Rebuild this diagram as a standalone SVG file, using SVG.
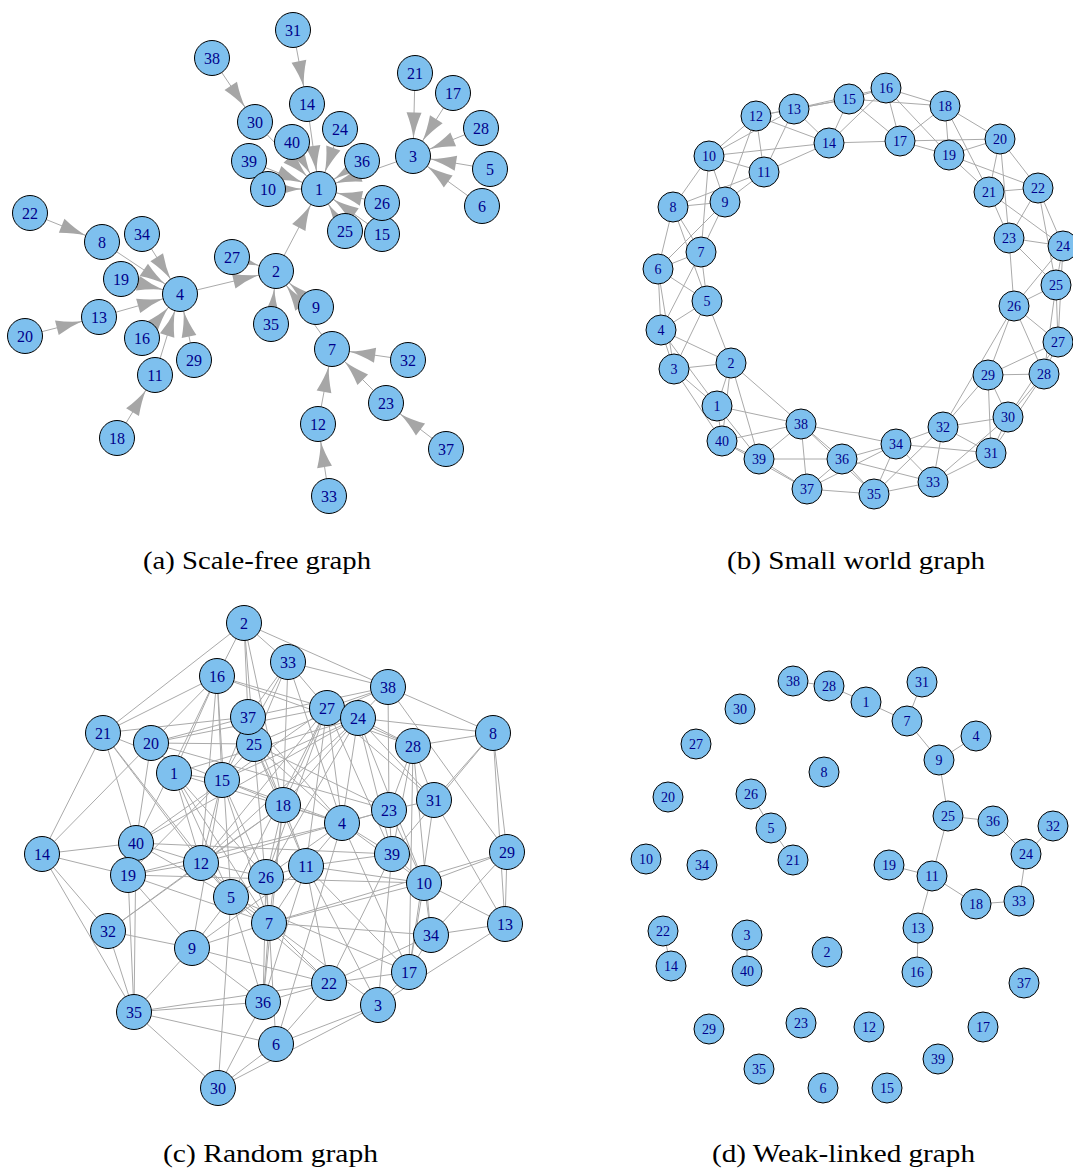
<svg xmlns="http://www.w3.org/2000/svg" width="1073" height="1171" viewBox="0 0 1073 1171">
<style>
.e path{stroke:#aaaaaa;stroke-width:1;fill:none}
.ea path{marker-end:url(#ah)}
.n circle{fill:#7EC0EE;stroke:#000;stroke-width:1}
.n text{font-family:"Liberation Serif","Times New Roman",serif;fill:#00008B;text-anchor:middle;dominant-baseline:central}
.big text{font-size:16px}
.small text{font-size:14px}
.cap{font-family:"Liberation Serif","Times New Roman",serif;font-size:26px;fill:#000}
</style>
<defs>
<marker id="ah" markerUnits="userSpaceOnUse" viewBox="-46 -9 48 18" refX="0" refY="0" markerWidth="48" markerHeight="18" orient="auto" overflow="visible">
<path d="M-17.5 0Q-30 -2 -43.5 -7.5L-43.5 7.5Q-30 2 -17.5 0Z" fill="#a6a6a6"/>
</marker>
</defs>
<rect width="1073" height="1171" fill="#fff"/>

<!-- (a) scale-free -->
<g id="edges-a" class="e ea">
<path d="M276 271L319 189"/>
<path d="M413 156L319 189"/>
<path d="M180 294L276 271"/>
<path d="M490 169L413 156"/>
<path d="M482 206L413 156"/>
<path d="M332 349L276 271"/>
<path d="M102 242L180 294"/>
<path d="M316 307L276 271"/>
<path d="M268 189L319 189"/>
<path d="M155 375L180 294"/>
<path d="M318 424L332 349"/>
<path d="M99 317L180 294"/>
<path d="M307 104L319 189"/>
<path d="M382 234L319 189"/>
<path d="M142 338L180 294"/>
<path d="M453 93L413 156"/>
<path d="M117 438L155 375"/>
<path d="M121 279L180 294"/>
<path d="M25 336L99 317"/>
<path d="M415 73L413 156"/>
<path d="M30 213L102 242"/>
<path d="M386 403L332 349"/>
<path d="M340 129L319 189"/>
<path d="M345 231L319 189"/>
<path d="M382 203L319 189"/>
<path d="M232 257L276 271"/>
<path d="M481 128L413 156"/>
<path d="M194 360L180 294"/>
<path d="M255 122L319 189"/>
<path d="M293 30L307 104"/>
<path d="M408 360L332 349"/>
<path d="M329 496L318 424"/>
<path d="M142 234L180 294"/>
<path d="M271 324L276 271"/>
<path d="M362 161L319 189"/>
<path d="M446 449L386 403"/>
<path d="M212 58L255 122"/>
<path d="M249 161L319 189"/>
<path d="M292 142L319 189"/>
</g>
<g id="nodes-a" class="n big">
<g id="a1"><circle cx="319" cy="189" r="17.5"/><text x="319" y="189">1</text></g>
<g id="a2"><circle cx="276" cy="271" r="17.5"/><text x="276" y="271">2</text></g>
<g id="a3"><circle cx="413" cy="156" r="17.5"/><text x="413" y="156">3</text></g>
<g id="a4"><circle cx="180" cy="294" r="17.5"/><text x="180" y="294">4</text></g>
<g id="a5"><circle cx="490" cy="169" r="17.5"/><text x="490" y="169">5</text></g>
<g id="a6"><circle cx="482" cy="206" r="17.5"/><text x="482" y="206">6</text></g>
<g id="a7"><circle cx="332" cy="349" r="17.5"/><text x="332" y="349">7</text></g>
<g id="a8"><circle cx="102" cy="242" r="17.5"/><text x="102" y="242">8</text></g>
<g id="a9"><circle cx="316" cy="307" r="17.5"/><text x="316" y="307">9</text></g>
<g id="a11"><circle cx="155" cy="375" r="17.5"/><text x="155" y="375">11</text></g>
<g id="a12"><circle cx="318" cy="424" r="17.5"/><text x="318" y="424">12</text></g>
<g id="a13"><circle cx="99" cy="317" r="17.5"/><text x="99" y="317">13</text></g>
<g id="a14"><circle cx="307" cy="104" r="17.5"/><text x="307" y="104">14</text></g>
<g id="a15"><circle cx="382" cy="234" r="17.5"/><text x="382" y="234">15</text></g>
<g id="a16"><circle cx="142" cy="338" r="17.5"/><text x="142" y="338">16</text></g>
<g id="a17"><circle cx="453" cy="93" r="17.5"/><text x="453" y="93">17</text></g>
<g id="a18"><circle cx="117" cy="438" r="17.5"/><text x="117" y="438">18</text></g>
<g id="a19"><circle cx="121" cy="279" r="17.5"/><text x="121" y="279">19</text></g>
<g id="a20"><circle cx="25" cy="336" r="17.5"/><text x="25" y="336">20</text></g>
<g id="a21"><circle cx="415" cy="73" r="17.5"/><text x="415" y="73">21</text></g>
<g id="a22"><circle cx="30" cy="213" r="17.5"/><text x="30" y="213">22</text></g>
<g id="a23"><circle cx="386" cy="403" r="17.5"/><text x="386" y="403">23</text></g>
<g id="a24"><circle cx="340" cy="129" r="17.5"/><text x="340" y="129">24</text></g>
<g id="a25"><circle cx="345" cy="231" r="17.5"/><text x="345" y="231">25</text></g>
<g id="a26"><circle cx="382" cy="203" r="17.5"/><text x="382" y="203">26</text></g>
<g id="a27"><circle cx="232" cy="257" r="17.5"/><text x="232" y="257">27</text></g>
<g id="a28"><circle cx="481" cy="128" r="17.5"/><text x="481" y="128">28</text></g>
<g id="a29"><circle cx="194" cy="360" r="17.5"/><text x="194" y="360">29</text></g>
<g id="a30"><circle cx="255" cy="122" r="17.5"/><text x="255" y="122">30</text></g>
<g id="a31"><circle cx="293" cy="30" r="17.5"/><text x="293" y="30">31</text></g>
<g id="a32"><circle cx="408" cy="360" r="17.5"/><text x="408" y="360">32</text></g>
<g id="a33"><circle cx="329" cy="496" r="17.5"/><text x="329" y="496">33</text></g>
<g id="a34"><circle cx="142" cy="234" r="17.5"/><text x="142" y="234">34</text></g>
<g id="a35"><circle cx="271" cy="324" r="17.5"/><text x="271" y="324">35</text></g>
<g id="a36"><circle cx="362" cy="161" r="17.5"/><text x="362" y="161">36</text></g>
<g id="a37"><circle cx="446" cy="449" r="17.5"/><text x="446" y="449">37</text></g>
<g id="a38"><circle cx="212" cy="58" r="17.5"/><text x="212" y="58">38</text></g>
<g id="a39"><circle cx="249" cy="161" r="17.5"/><text x="249" y="161">39</text></g>
<g id="a10"><circle cx="268" cy="189" r="17.5"/><text x="268" y="189">10</text></g>
<g id="a40"><circle cx="292" cy="142" r="17.5"/><text x="292" y="142">40</text></g>
</g>

<!-- (b) small world -->
<g id="edges-b" class="e">
<path d="M717 406L731 363"/><path d="M717 406L674 369"/><path d="M717 406L661 330"/>
<path d="M731 363L674 369"/><path d="M731 363L661 330"/><path d="M731 363L707 301"/>
<path d="M674 369L661 330"/><path d="M674 369L707 301"/><path d="M674 369L658 269"/>
<path d="M661 330L707 301"/><path d="M661 330L658 269"/><path d="M661 330L701 252"/>
<path d="M707 301L658 269"/><path d="M707 301L701 252"/><path d="M707 301L673 207"/>
<path d="M658 269L701 252"/><path d="M658 269L673 207"/><path d="M658 269L725 202"/>
<path d="M701 252L673 207"/><path d="M701 252L725 202"/><path d="M701 252L709 156"/>
<path d="M673 207L725 202"/><path d="M673 207L709 156"/><path d="M673 207L764 172"/>
<path d="M725 202L709 156"/><path d="M725 202L764 172"/><path d="M725 202L756 116"/>
<path d="M709 156L764 172"/><path d="M709 156L756 116"/><path d="M709 156L794 109"/>
<path d="M764 172L756 116"/><path d="M764 172L794 109"/><path d="M764 172L829 143"/>
<path d="M756 116L794 109"/><path d="M756 116L829 143"/><path d="M756 116L849 99"/>
<path d="M794 109L829 143"/><path d="M794 109L849 99"/><path d="M794 109L886 88"/>
<path d="M829 143L849 99"/><path d="M829 143L886 88"/><path d="M829 143L900 141"/>
<path d="M849 99L886 88"/><path d="M849 99L900 141"/><path d="M849 99L945 106"/>
<path d="M886 88L900 141"/><path d="M886 88L945 106"/><path d="M886 88L949 155"/>
<path d="M900 141L945 106"/><path d="M900 141L949 155"/><path d="M900 141L1000 139"/>
<path d="M945 106L949 155"/><path d="M945 106L1000 139"/><path d="M945 106L989 192"/>
<path d="M949 155L1000 139"/><path d="M949 155L989 192"/><path d="M949 155L1038 188"/>
<path d="M1000 139L989 192"/><path d="M1000 139L1038 188"/><path d="M1000 139L1009 238"/>
<path d="M989 192L1038 188"/><path d="M989 192L1009 238"/><path d="M989 192L1063 246"/>
<path d="M1038 188L1009 238"/><path d="M1038 188L1063 246"/><path d="M1038 188L1056 285"/>
<path d="M1009 238L1063 246"/><path d="M1009 238L1056 285"/><path d="M1009 238L1014 306"/>
<path d="M1063 246L1056 285"/><path d="M1063 246L1014 306"/><path d="M1063 246L1058 342"/>
<path d="M1056 285L1014 306"/><path d="M1056 285L1058 342"/><path d="M1056 285L1044 374"/>
<path d="M1014 306L1058 342"/><path d="M1014 306L1044 374"/><path d="M1014 306L988 375"/>
<path d="M1058 342L1044 374"/><path d="M1058 342L988 375"/><path d="M1058 342L1008 417"/>
<path d="M1044 374L988 375"/><path d="M1044 374L1008 417"/><path d="M1044 374L991 453"/>
<path d="M988 375L1008 417"/><path d="M988 375L991 453"/><path d="M988 375L943 427"/>
<path d="M1008 417L991 453"/><path d="M1008 417L943 427"/><path d="M1008 417L933 482"/>
<path d="M991 453L943 427"/><path d="M991 453L933 482"/><path d="M991 453L896 444"/>
<path d="M943 427L933 482"/><path d="M943 427L896 444"/><path d="M943 427L874 494"/>
<path d="M933 482L896 444"/><path d="M933 482L874 494"/><path d="M933 482L842 459"/>
<path d="M896 444L874 494"/><path d="M896 444L842 459"/><path d="M896 444L807 489"/>
<path d="M874 494L842 459"/><path d="M874 494L807 489"/><path d="M874 494L801 424"/>
<path d="M842 459L807 489"/><path d="M842 459L801 424"/><path d="M842 459L759 459"/>
<path d="M807 489L801 424"/><path d="M807 489L759 459"/><path d="M807 489L722 441"/>
<path d="M801 424L759 459"/><path d="M801 424L722 441"/><path d="M801 424L717 406"/>
<path d="M759 459L722 441"/><path d="M759 459L717 406"/><path d="M759 459L731 363"/>
<path d="M722 441L717 406"/><path d="M722 441L731 363"/><path d="M722 441L674 369"/>
<path d="M731 363L801 424"/><path d="M896 444L801 424"/><path d="M709 156L829 143"/><path d="M1014 306L943 427"/>
</g>
<g id="nodes-b" class="n small">
<g id="b1"><circle cx="717" cy="406" r="15"/><text x="717" y="406">1</text></g>
<g id="b2"><circle cx="731" cy="363" r="15"/><text x="731" y="363">2</text></g>
<g id="b3"><circle cx="674" cy="369" r="15"/><text x="674" y="369">3</text></g>
<g id="b4"><circle cx="661" cy="330" r="15"/><text x="661" y="330">4</text></g>
<g id="b5"><circle cx="707" cy="301" r="15"/><text x="707" y="301">5</text></g>
<g id="b6"><circle cx="658" cy="269" r="15"/><text x="658" y="269">6</text></g>
<g id="b7"><circle cx="701" cy="252" r="15"/><text x="701" y="252">7</text></g>
<g id="b8"><circle cx="673" cy="207" r="15"/><text x="673" y="207">8</text></g>
<g id="b9"><circle cx="725" cy="202" r="15"/><text x="725" y="202">9</text></g>
<g id="b10"><circle cx="709" cy="156" r="15"/><text x="709" y="156">10</text></g>
<g id="b11"><circle cx="764" cy="172" r="15"/><text x="764" y="172">11</text></g>
<g id="b12"><circle cx="756" cy="116" r="15"/><text x="756" y="116">12</text></g>
<g id="b13"><circle cx="794" cy="109" r="15"/><text x="794" y="109">13</text></g>
<g id="b14"><circle cx="829" cy="143" r="15"/><text x="829" y="143">14</text></g>
<g id="b15"><circle cx="849" cy="99" r="15"/><text x="849" y="99">15</text></g>
<g id="b16"><circle cx="886" cy="88" r="15"/><text x="886" y="88">16</text></g>
<g id="b17"><circle cx="900" cy="141" r="15"/><text x="900" y="141">17</text></g>
<g id="b18"><circle cx="945" cy="106" r="15"/><text x="945" y="106">18</text></g>
<g id="b19"><circle cx="949" cy="155" r="15"/><text x="949" y="155">19</text></g>
<g id="b20"><circle cx="1000" cy="139" r="15"/><text x="1000" y="139">20</text></g>
<g id="b21"><circle cx="989" cy="192" r="15"/><text x="989" y="192">21</text></g>
<g id="b22"><circle cx="1038" cy="188" r="15"/><text x="1038" y="188">22</text></g>
<g id="b23"><circle cx="1009" cy="238" r="15"/><text x="1009" y="238">23</text></g>
<g id="b24"><circle cx="1063" cy="246" r="15"/><text x="1063" y="246">24</text></g>
<g id="b25"><circle cx="1056" cy="285" r="15"/><text x="1056" y="285">25</text></g>
<g id="b26"><circle cx="1014" cy="306" r="15"/><text x="1014" y="306">26</text></g>
<g id="b27"><circle cx="1058" cy="342" r="15"/><text x="1058" y="342">27</text></g>
<g id="b28"><circle cx="1044" cy="374" r="15"/><text x="1044" y="374">28</text></g>
<g id="b29"><circle cx="988" cy="375" r="15"/><text x="988" y="375">29</text></g>
<g id="b30"><circle cx="1008" cy="417" r="15"/><text x="1008" y="417">30</text></g>
<g id="b31"><circle cx="991" cy="453" r="15"/><text x="991" y="453">31</text></g>
<g id="b32"><circle cx="943" cy="427" r="15"/><text x="943" y="427">32</text></g>
<g id="b33"><circle cx="933" cy="482" r="15"/><text x="933" y="482">33</text></g>
<g id="b34"><circle cx="896" cy="444" r="15"/><text x="896" y="444">34</text></g>
<g id="b35"><circle cx="874" cy="494" r="15"/><text x="874" y="494">35</text></g>
<g id="b36"><circle cx="842" cy="459" r="15"/><text x="842" y="459">36</text></g>
<g id="b37"><circle cx="807" cy="489" r="15"/><text x="807" y="489">37</text></g>
<g id="b38"><circle cx="801" cy="424" r="15"/><text x="801" y="424">38</text></g>
<g id="b39"><circle cx="759" cy="459" r="15"/><text x="759" y="459">39</text></g>
<g id="b40"><circle cx="722" cy="441" r="15"/><text x="722" y="441">40</text></g>
</g>

<!-- (c) random -->
<g id="edges-c" class="e">
<path d="M244 623L103 733"/><path d="M244 623L217 676"/><path d="M244 623L248 717"/><path d="M244 623L254 744"/><path d="M244 623L288 662"/><path d="M244 623L388 687"/><path d="M244 623L283 805"/>
<path d="M217 676L103 733"/><path d="M217 676L174 773"/><path d="M217 676L222 780"/><path d="M217 676L136 843"/><path d="M217 676L327 708"/><path d="M217 676L413 746"/><path d="M217 676L201 863"/><path d="M217 676L231 897"/>
<path d="M103 733L248 717"/><path d="M103 733L42 854"/><path d="M103 733L136 843"/><path d="M103 733L222 780"/><path d="M103 733L201 863"/><path d="M103 733L231 897"/>
<path d="M151 743L254 744"/><path d="M151 743L42 854"/><path d="M151 743L136 843"/><path d="M151 743L217 676"/><path d="M151 743L389 810"/><path d="M151 743L327 708"/>
<path d="M174 773L222 780"/><path d="M174 773L201 863"/><path d="M174 773L358 718"/><path d="M174 773L231 897"/><path d="M174 773L266 877"/><path d="M174 773L342 823"/><path d="M174 773L269 923"/>
<path d="M42 854L136 843"/><path d="M42 854L128 875"/><path d="M42 854L108 931"/><path d="M42 854L134 1012"/>
<path d="M136 843L201 863"/><path d="M136 843L134 1012"/><path d="M136 843L327 708"/><path d="M136 843L358 718"/><path d="M136 843L392 854"/><path d="M136 843L231 897"/>
<path d="M128 875L134 1012"/><path d="M128 875L192 948"/><path d="M128 875L201 863"/><path d="M128 875L269 923"/><path d="M128 875L342 823"/><path d="M128 875L424 883"/><path d="M128 875L222 780"/>
<path d="M108 931L134 1012"/><path d="M108 931L192 948"/><path d="M108 931L201 863"/><path d="M108 931L283 805"/>
<path d="M192 948L134 1012"/><path d="M192 948L263 1002"/><path d="M192 948L269 923"/><path d="M192 948L231 897"/><path d="M192 948L329 983"/><path d="M192 948L222 780"/><path d="M192 948L306 866"/>
<path d="M134 1012L263 1002"/><path d="M134 1012L218 1088"/><path d="M134 1012L329 983"/><path d="M134 1012L276 1044"/>
<path d="M218 1088L276 1044"/><path d="M218 1088L263 1002"/><path d="M218 1088L231 897"/><path d="M218 1088L378 1005"/>
<path d="M263 1002L329 983"/><path d="M263 1002L269 923"/><path d="M263 1002L266 877"/><path d="M263 1002L283 805"/><path d="M263 1002L306 866"/>
<path d="M276 1044L378 1005"/><path d="M276 1044L329 983"/><path d="M276 1044L269 923"/><path d="M276 1044L342 823"/>
<path d="M378 1005L505 924"/><path d="M378 1005L306 866"/><path d="M378 1005L392 854"/><path d="M378 1005L269 923"/><path d="M378 1005L409 972"/>
<path d="M329 983L409 972"/><path d="M329 983L306 866"/><path d="M329 983L269 923"/><path d="M329 983L392 854"/><path d="M329 983L431 935"/>
<path d="M409 972L424 883"/><path d="M409 972L431 935"/><path d="M409 972L342 823"/><path d="M409 972L413 746"/><path d="M409 972L231 897"/><path d="M409 972L306 866"/>
<path d="M431 935L505 924"/><path d="M431 935L269 923"/><path d="M431 935L413 746"/><path d="M431 935L424 883"/><path d="M431 935L507 852"/>
<path d="M505 924L507 852"/><path d="M505 924L424 883"/><path d="M505 924L493 733"/>
<path d="M507 852L493 733"/><path d="M507 852L424 883"/><path d="M507 852L388 687"/><path d="M507 852L269 923"/>
<path d="M424 883L269 923"/><path d="M424 883L358 718"/><path d="M424 883L389 810"/><path d="M424 883L306 866"/><path d="M424 883L392 854"/>
<path d="M392 854L389 810"/><path d="M392 854L342 823"/><path d="M392 854L327 708"/><path d="M392 854L413 746"/><path d="M392 854L358 718"/>
<path d="M389 810L413 746"/><path d="M389 810L388 687"/><path d="M389 810L434 800"/><path d="M389 810L342 823"/><path d="M389 810L201 863"/><path d="M389 810L254 744"/>
<path d="M434 800L493 733"/><path d="M434 800L413 746"/><path d="M434 800L358 718"/><path d="M434 800L505 924"/><path d="M434 800L327 708"/><path d="M434 800L409 972"/>
<path d="M493 733L388 687"/><path d="M493 733L413 746"/><path d="M493 733L358 718"/><path d="M493 733L392 854"/>
<path d="M413 746L358 718"/><path d="M413 746L327 708"/>
<path d="M388 687L327 708"/><path d="M388 687L358 718"/><path d="M388 687L288 662"/><path d="M388 687L248 717"/><path d="M388 687L254 744"/>
<path d="M288 662L327 708"/><path d="M288 662L283 805"/><path d="M288 662L342 823"/><path d="M288 662L248 717"/><path d="M288 662L254 744"/><path d="M288 662L222 780"/>
<path d="M327 708L358 718"/><path d="M327 708L342 823"/><path d="M327 708L283 805"/><path d="M327 708L201 863"/><path d="M327 708L231 897"/><path d="M327 708L266 877"/><path d="M327 708L306 866"/>
<path d="M358 718L342 823"/><path d="M358 718L283 805"/><path d="M358 718L201 863"/><path d="M358 718L266 877"/><path d="M358 718L222 780"/>
<path d="M248 717L222 780"/><path d="M248 717L151 743"/><path d="M248 717L283 805"/><path d="M248 717L342 823"/>
<path d="M254 744L222 780"/><path d="M254 744L283 805"/><path d="M254 744L342 823"/><path d="M254 744L269 923"/><path d="M254 744L306 866"/>
<path d="M222 780L283 805"/><path d="M222 780L201 863"/><path d="M222 780L269 923"/><path d="M222 780L266 877"/><path d="M222 780L342 823"/>
<path d="M283 805L342 823"/><path d="M283 805L306 866"/><path d="M283 805L266 877"/><path d="M283 805L201 863"/><path d="M283 805L269 923"/>
<path d="M342 823L306 866"/><path d="M342 823L266 877"/><path d="M342 823L424 883"/>
<path d="M201 863L266 877"/><path d="M201 863L231 897"/><path d="M201 863L269 923"/>
<path d="M231 897L266 877"/><path d="M231 897L263 1002"/><path d="M231 897L329 983"/><path d="M231 897L269 923"/>
<path d="M266 877L306 866"/><path d="M266 877L269 923"/>
<path d="M306 866L392 854"/><path d="M306 866L269 923"/>
</g>
<g id="nodes-c" class="n big">
<g id="c1"><circle cx="174" cy="773" r="17.5"/><text x="174" y="773">1</text></g>
<g id="c2"><circle cx="244" cy="623" r="17.5"/><text x="244" y="623">2</text></g>
<g id="c3"><circle cx="378" cy="1005" r="17.5"/><text x="378" y="1005">3</text></g>
<g id="c4"><circle cx="342" cy="823" r="17.5"/><text x="342" y="823">4</text></g>
<g id="c5"><circle cx="231" cy="897" r="17.5"/><text x="231" y="897">5</text></g>
<g id="c6"><circle cx="276" cy="1044" r="17.5"/><text x="276" y="1044">6</text></g>
<g id="c7"><circle cx="269" cy="923" r="17.5"/><text x="269" y="923">7</text></g>
<g id="c8"><circle cx="493" cy="733" r="17.5"/><text x="493" y="733">8</text></g>
<g id="c9"><circle cx="192" cy="948" r="17.5"/><text x="192" y="948">9</text></g>
<g id="c10"><circle cx="424" cy="883" r="17.5"/><text x="424" y="883">10</text></g>
<g id="c11"><circle cx="306" cy="866" r="17.5"/><text x="306" y="866">11</text></g>
<g id="c12"><circle cx="201" cy="863" r="17.5"/><text x="201" y="863">12</text></g>
<g id="c13"><circle cx="505" cy="924" r="17.5"/><text x="505" y="924">13</text></g>
<g id="c14"><circle cx="42" cy="854" r="17.5"/><text x="42" y="854">14</text></g>
<g id="c15"><circle cx="222" cy="780" r="17.5"/><text x="222" y="780">15</text></g>
<g id="c16"><circle cx="217" cy="676" r="17.5"/><text x="217" y="676">16</text></g>
<g id="c17"><circle cx="409" cy="972" r="17.5"/><text x="409" y="972">17</text></g>
<g id="c18"><circle cx="283" cy="805" r="17.5"/><text x="283" y="805">18</text></g>
<g id="c20"><circle cx="151" cy="743" r="17.5"/><text x="151" y="743">20</text></g>
<g id="c21"><circle cx="103" cy="733" r="17.5"/><text x="103" y="733">21</text></g>
<g id="c22"><circle cx="329" cy="983" r="17.5"/><text x="329" y="983">22</text></g>
<g id="c23"><circle cx="389" cy="810" r="17.5"/><text x="389" y="810">23</text></g>
<g id="c25"><circle cx="254" cy="744" r="17.5"/><text x="254" y="744">25</text></g>
<g id="c26"><circle cx="266" cy="877" r="17.5"/><text x="266" y="877">26</text></g>
<g id="c27"><circle cx="327" cy="708" r="17.5"/><text x="327" y="708">27</text></g>
<g id="c24"><circle cx="358" cy="718" r="17.5"/><text x="358" y="718">24</text></g>
<g id="c28"><circle cx="413" cy="746" r="17.5"/><text x="413" y="746">28</text></g>
<g id="c29"><circle cx="507" cy="852" r="17.5"/><text x="507" y="852">29</text></g>
<g id="c30"><circle cx="218" cy="1088" r="17.5"/><text x="218" y="1088">30</text></g>
<g id="c31"><circle cx="434" cy="800" r="17.5"/><text x="434" y="800">31</text></g>
<g id="c32"><circle cx="108" cy="931" r="17.5"/><text x="108" y="931">32</text></g>
<g id="c33"><circle cx="288" cy="662" r="17.5"/><text x="288" y="662">33</text></g>
<g id="c34"><circle cx="431" cy="935" r="17.5"/><text x="431" y="935">34</text></g>
<g id="c35"><circle cx="134" cy="1012" r="17.5"/><text x="134" y="1012">35</text></g>
<g id="c36"><circle cx="263" cy="1002" r="17.5"/><text x="263" y="1002">36</text></g>
<g id="c37"><circle cx="248" cy="717" r="17.5"/><text x="248" y="717">37</text></g>
<g id="c38"><circle cx="388" cy="687" r="17.5"/><text x="388" y="687">38</text></g>
<g id="c39"><circle cx="392" cy="854" r="17.5"/><text x="392" y="854">39</text></g>
<g id="c40"><circle cx="136" cy="843" r="17.5"/><text x="136" y="843">40</text></g>
<g id="c19"><circle cx="128" cy="875" r="17.5"/><text x="128" y="875">19</text></g>
</g>

<!-- (d) weak-linked -->
<g id="edges-d" class="e">
<path d="M793 681L829 686"/><path d="M829 686L866 702"/><path d="M866 702L907 721"/><path d="M907 721L922 682"/>
<path d="M907 721L939 760"/><path d="M939 760L976 736"/><path d="M939 760L948 816"/><path d="M948 816L993 821"/>
<path d="M993 821L1026 854"/><path d="M1026 854L1053 826"/><path d="M1026 854L1019 901"/><path d="M1019 901L976 904"/>
<path d="M976 904L932 876"/><path d="M932 876L889 865"/><path d="M932 876L948 816"/><path d="M932 876L918 928"/>
<path d="M918 928L917 972"/><path d="M751 794L771 828"/><path d="M771 828L793 860"/><path d="M663 931L671 966"/><path d="M747 935L747 971"/>
</g>
<g id="nodes-d" class="n small">
<g id="d1"><circle cx="866" cy="702" r="15"/><text x="866" y="702">1</text></g>
<g id="d2"><circle cx="827" cy="952" r="15"/><text x="827" y="952">2</text></g>
<g id="d3"><circle cx="747" cy="935" r="15"/><text x="747" y="935">3</text></g>
<g id="d4"><circle cx="976" cy="736" r="15"/><text x="976" y="736">4</text></g>
<g id="d5"><circle cx="771" cy="828" r="15"/><text x="771" y="828">5</text></g>
<g id="d6"><circle cx="823" cy="1088" r="15"/><text x="823" y="1088">6</text></g>
<g id="d7"><circle cx="907" cy="721" r="15"/><text x="907" y="721">7</text></g>
<g id="d8"><circle cx="824" cy="772" r="15"/><text x="824" y="772">8</text></g>
<g id="d9"><circle cx="939" cy="760" r="15"/><text x="939" y="760">9</text></g>
<g id="d10"><circle cx="646" cy="859" r="15"/><text x="646" y="859">10</text></g>
<g id="d11"><circle cx="932" cy="876" r="15"/><text x="932" y="876">11</text></g>
<g id="d12"><circle cx="869" cy="1027" r="15"/><text x="869" y="1027">12</text></g>
<g id="d13"><circle cx="918" cy="928" r="15"/><text x="918" y="928">13</text></g>
<g id="d14"><circle cx="671" cy="966" r="15"/><text x="671" y="966">14</text></g>
<g id="d15"><circle cx="887" cy="1088" r="15"/><text x="887" y="1088">15</text></g>
<g id="d16"><circle cx="917" cy="972" r="15"/><text x="917" y="972">16</text></g>
<g id="d17"><circle cx="983" cy="1027" r="15"/><text x="983" y="1027">17</text></g>
<g id="d18"><circle cx="976" cy="904" r="15"/><text x="976" y="904">18</text></g>
<g id="d19"><circle cx="889" cy="865" r="15"/><text x="889" y="865">19</text></g>
<g id="d20"><circle cx="668" cy="797" r="15"/><text x="668" y="797">20</text></g>
<g id="d21"><circle cx="793" cy="860" r="15"/><text x="793" y="860">21</text></g>
<g id="d22"><circle cx="663" cy="931" r="15"/><text x="663" y="931">22</text></g>
<g id="d23"><circle cx="801" cy="1023" r="15"/><text x="801" y="1023">23</text></g>
<g id="d24"><circle cx="1026" cy="854" r="15"/><text x="1026" y="854">24</text></g>
<g id="d25"><circle cx="948" cy="816" r="15"/><text x="948" y="816">25</text></g>
<g id="d26"><circle cx="751" cy="794" r="15"/><text x="751" y="794">26</text></g>
<g id="d27"><circle cx="696" cy="744" r="15"/><text x="696" y="744">27</text></g>
<g id="d28"><circle cx="829" cy="686" r="15"/><text x="829" y="686">28</text></g>
<g id="d29"><circle cx="709" cy="1029" r="15"/><text x="709" y="1029">29</text></g>
<g id="d30"><circle cx="740" cy="709" r="15"/><text x="740" y="709">30</text></g>
<g id="d31"><circle cx="922" cy="682" r="15"/><text x="922" y="682">31</text></g>
<g id="d32"><circle cx="1053" cy="826" r="15"/><text x="1053" y="826">32</text></g>
<g id="d33"><circle cx="1019" cy="901" r="15"/><text x="1019" y="901">33</text></g>
<g id="d34"><circle cx="702" cy="865" r="15"/><text x="702" y="865">34</text></g>
<g id="d35"><circle cx="759" cy="1069" r="15"/><text x="759" y="1069">35</text></g>
<g id="d36"><circle cx="993" cy="821" r="15"/><text x="993" y="821">36</text></g>
<g id="d37"><circle cx="1024" cy="983" r="15"/><text x="1024" y="983">37</text></g>
<g id="d38"><circle cx="793" cy="681" r="15"/><text x="793" y="681">38</text></g>
<g id="d39"><circle cx="938" cy="1059" r="15"/><text x="938" y="1059">39</text></g>
<g id="d40"><circle cx="747" cy="971" r="15"/><text x="747" y="971">40</text></g>
</g>

<g id="captions">
<text class="cap" x="143" y="569" textLength="228" lengthAdjust="spacingAndGlyphs">(a)  Scale-free graph</text>
<text class="cap" x="727" y="569" textLength="258" lengthAdjust="spacingAndGlyphs">(b)  Small world graph</text>
<text class="cap" x="163" y="1162" textLength="215" lengthAdjust="spacingAndGlyphs">(c)  Random graph</text>
<text class="cap" x="712" y="1162" textLength="263" lengthAdjust="spacingAndGlyphs">(d)  Weak-linked graph</text>
</g>
</svg>
